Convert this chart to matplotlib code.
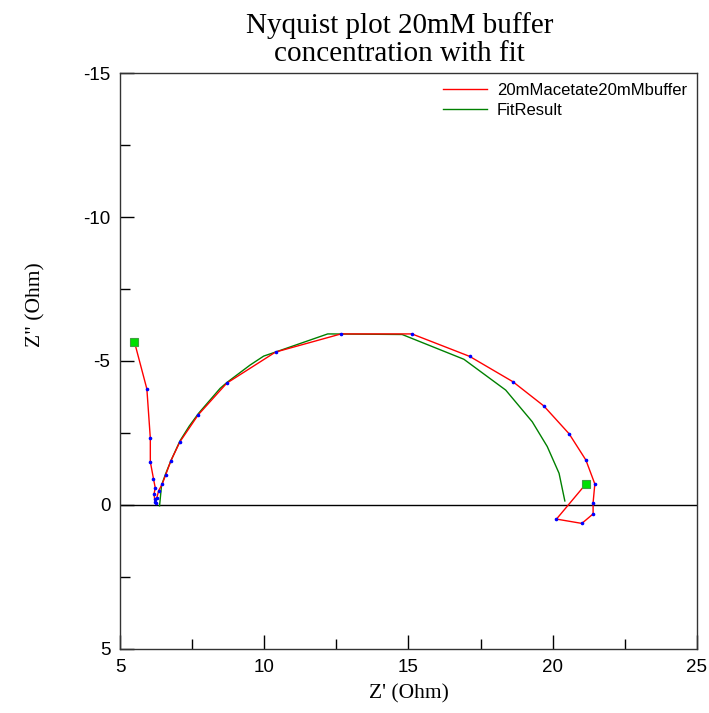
import matplotlib.pyplot as plt
import numpy as np
from matplotlib.ticker import MultipleLocator

plt.rcParams['axes.unicode_minus'] = False

# measured impedance (Z' real, Z'' imaginary), in Ohm
z_re = [5.50, 5.93, 6.05, 6.05, 6.16, 6.22, 6.18, 6.20, 6.21, 6.23, 6.27,
        6.34, 6.46, 6.58, 6.76, 7.08, 7.71, 8.70, 10.39, 12.66, 15.12, 17.12,
        18.62, 19.69, 20.57, 21.15, 21.46, 21.40, 21.40, 21.01, 20.13, 21.15]
z_im = [-5.66, -4.03, -2.32, -1.50, -0.91, -0.60, -0.38, -0.20, -0.10, -0.08, -0.23,
        -0.50, -0.72, -1.04, -1.53, -2.20, -3.13, -4.23, -5.31, -5.94, -5.94, -5.16,
        -4.28, -3.44, -2.47, -1.56, -0.73, -0.08, 0.31, 0.64, 0.49, -0.73]

# equivalent circuit fit
fit_re = [6.37, 6.44, 6.58, 6.77, 7.08, 7.40, 7.72, 8.47, 8.70, 9.51, 9.98, 10.39,
          12.20, 14.78, 16.92, 18.37, 19.29, 19.81, 20.22, 20.42]
fit_im = [0.03, -0.69, -1.08, -1.55, -2.23, -2.74, -3.18, -4.05, -4.25, -4.86, -5.17, -5.31,
          -5.94, -5.92, -5.06, -3.99, -2.89, -2.03, -1.10, -0.14]

fig = plt.figure(figsize=(7.09, 7.13), dpi=100)
ax = fig.add_axes([0.1693, 0.0898, 0.8137, 0.8078])

ax.axhline(0, color='black', lw=1.0, zorder=1)
ax.plot(z_re, z_im, color='red', lw=1.0, label='20mMacetate20mMbuffer', zorder=3)
ax.plot(z_re, z_im, ls='none', marker='o', ms=1.6, mfc='blue', mec='blue', zorder=4)
ax.plot(fit_re, fit_im, color='green', lw=1.0, label='FitResult', zorder=2)
ax.plot([z_re[0], z_re[-1]], [z_im[0], z_im[-1]], ls='none', marker='s', ms=6,
        mfc='#00e000', mec='#40a040', mew=0.8, zorder=5)

ax.set_xlim(5, 25)
ax.set_ylim(5, -15)
ax.xaxis.set_major_locator(MultipleLocator(5))
ax.xaxis.set_minor_locator(MultipleLocator(2.5))
ax.yaxis.set_major_locator(MultipleLocator(5))
ax.yaxis.set_minor_locator(MultipleLocator(2.5))
ax.tick_params(which='major', direction='in', length=10, width=1, labelsize=13.5, pad=7,
               labelfontfamily='Liberation Sans')
ax.tick_params(which='minor', direction='in', length=7, width=1)
for s in ax.spines.values():
    s.set_linewidth(1.0)
    s.set_color('#333333')

ax.set_xlabel("Z' (Ohm)", family='Liberation Serif', fontsize=15.5, labelpad=6)
ax.set_ylabel('Z" (Ohm)', family='Liberation Serif', fontsize=15.5)
ax.yaxis.set_label_coords(-0.130, 0.597)
ax.set_title('Nyquist plot 20mM buffer\nconcentration with fit', family='Liberation Serif',
             fontsize=21, linespacing=1.1, pad=9, x=0.485)

leg = ax.legend(loc='upper right', frameon=False,
                prop={'family': 'Liberation Sans', 'size': 12},
                handlelength=2.6, handletextpad=0.6, labelspacing=0.3,
                borderaxespad=0.2)

plt.savefig('out.png', dpi=100)
